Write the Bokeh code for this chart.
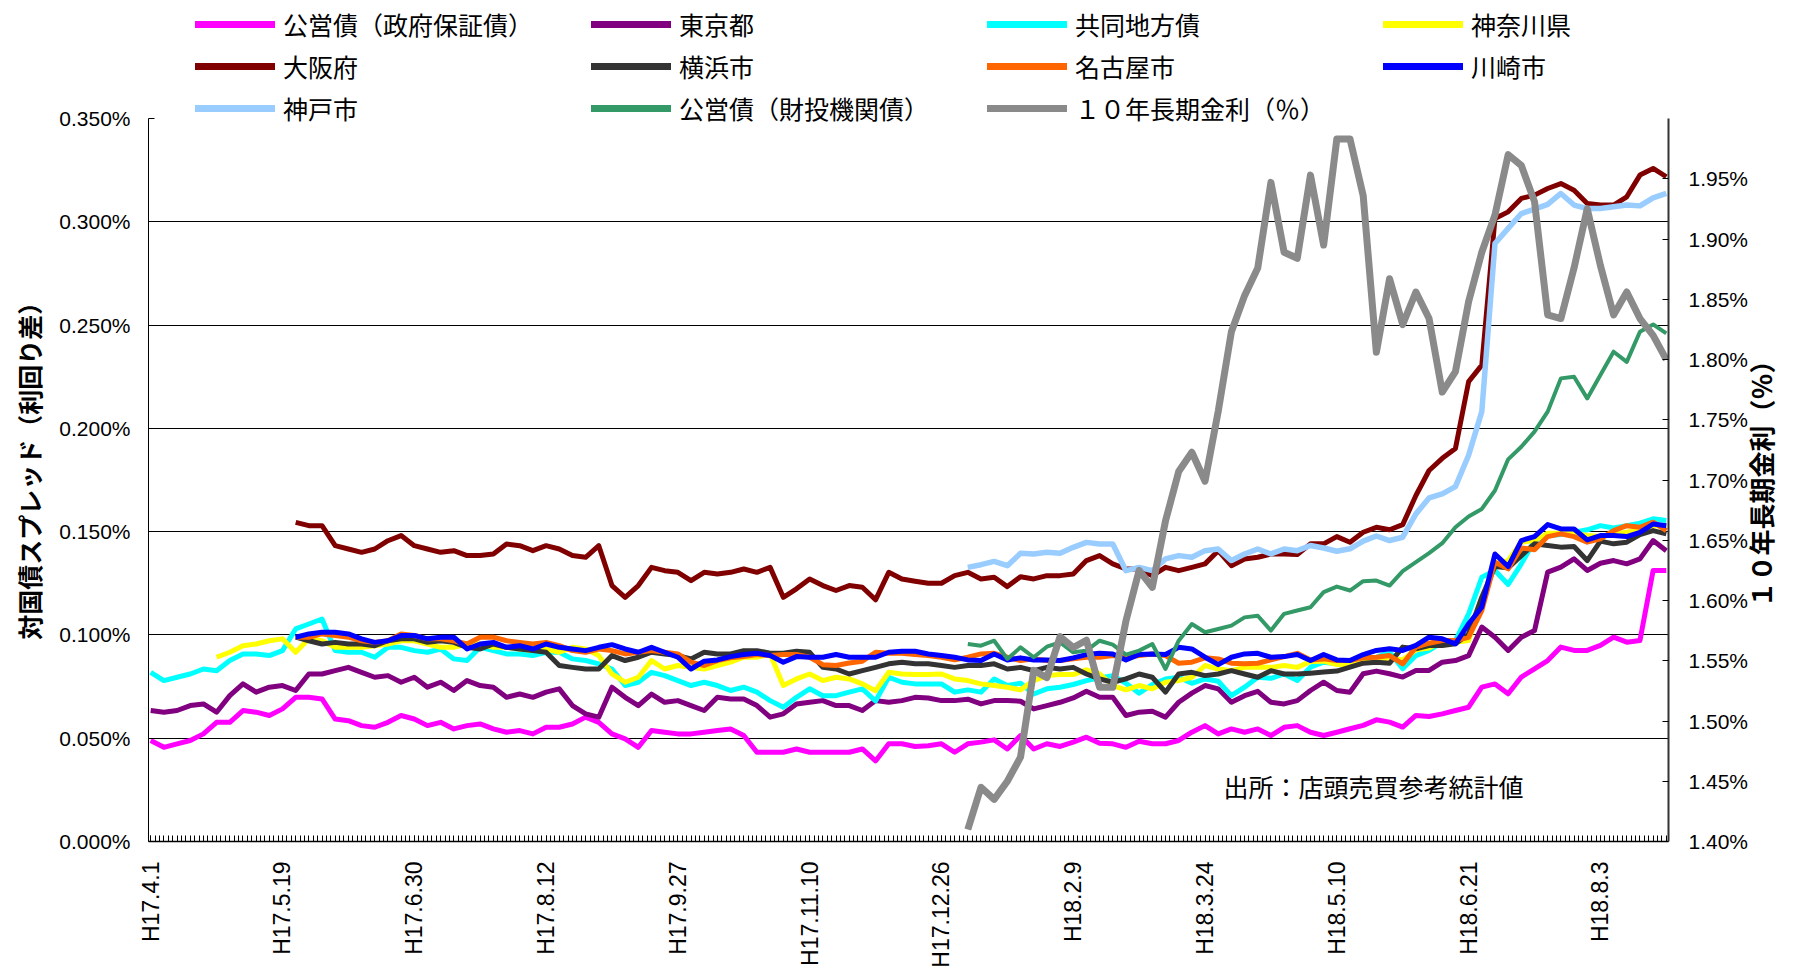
import math
import numpy as np
from bokeh.plotting import figure
from bokeh.models import (Range1d, LinearAxis, FixedTicker, PrintfTickFormatter,
                          Legend, LegendItem, Label)
from bokeh.embed import file_html
from bokeh.resources import INLINE

# ---------------- data ----------------
N_DAYS = 346          # business days on the category axis
STEP = 3              # values read every 3rd business day
date_labels = ["H17.4.1", "H17.5.19", "H17.6.30", "H17.8.12", "H17.9.27", "H17.11.10",
               "H17.12.26", "H18.2.9", "H18.3.24", "H18.5.10", "H18.6.21", "H18.8.3"]
label_days = [0, 30, 60, 90, 120, 150, 180, 210, 240, 270, 300, 330]

series_names = ["公営債（政府保証債）", "東京都", "共同地方債", "神奈川県",
                "大阪府", "横浜市", "名古屋市", "川崎市",
                "神戸市", "公営債（財投機関債）", "１０年長期金利（％）"]
series_start = [0, 0, 0, 15, 33, 33, 33, 33, 186, 186, 186]

gov_guaranteed = [
    0.0489, 0.0456, 0.0473, 0.0489, 0.0521, 0.0577, 0.0577, 0.0634, 0.0626, 0.0610,
    0.0642, 0.0698, 0.0698, 0.0690, 0.0593, 0.0585, 0.0561, 0.0553, 0.0577, 0.0610,
    0.0593, 0.0561, 0.0577, 0.0545, 0.0561, 0.0569, 0.0545, 0.0529, 0.0537, 0.0521,
    0.0553, 0.0553, 0.0569, 0.0602, 0.0577, 0.0521, 0.0497, 0.0456, 0.0537, 0.0529,
    0.0521, 0.0521, 0.0529, 0.0537, 0.0545, 0.0513, 0.0432, 0.0432, 0.0432, 0.0448,
    0.0432, 0.0432, 0.0432, 0.0432, 0.0448, 0.0390, 0.0473, 0.0473,
    0.0460, 0.0464, 0.0473, 0.0432, 0.0473, 0.0481, 0.0492, 0.0448, 0.0513, 0.0448,
    0.0473, 0.0460, 0.0481, 0.0505, 0.0476, 0.0473, 0.0456, 0.0485, 0.0473, 0.0473,
    0.0489, 0.0529, 0.0561, 0.0521, 0.0545, 0.0529, 0.0545, 0.0513, 0.0553, 0.0561,
    0.0529, 0.0513, 0.0529, 0.0546, 0.0562, 0.0589, 0.0578, 0.0554, 0.0610, 0.0605,
    0.0618, 0.0634, 0.0650, 0.0747, 0.0763, 0.0715, 0.0796, 0.0836, 0.0876, 0.0941,
    0.0925, 0.0925, 0.0949, 0.0989, 0.0965, 0.0973, 0.1312, 0.1312]

tokyo = [
    0.0634, 0.0626, 0.0634, 0.0658, 0.0666, 0.0626, 0.0706, 0.0763, 0.0723, 0.0747,
    0.0755, 0.0731, 0.0811, 0.0811, 0.0827, 0.0843, 0.0819, 0.0795, 0.0803, 0.0771,
    0.0795, 0.0747, 0.0771, 0.0731, 0.0779, 0.0755, 0.0747, 0.0698, 0.0714, 0.0698,
    0.0723, 0.0739, 0.0658, 0.0618, 0.0602, 0.0747, 0.0698, 0.0658, 0.0714, 0.0674,
    0.0682, 0.0658, 0.0634, 0.0698, 0.0690, 0.0690, 0.0658, 0.0602, 0.0618, 0.0666,
    0.0674, 0.0682, 0.0658, 0.0658, 0.0634, 0.0682, 0.0674, 0.0682,
    0.0698, 0.0695, 0.0682, 0.0682, 0.0689, 0.0666, 0.0682, 0.0682, 0.0679, 0.0642,
    0.0658, 0.0674, 0.0695, 0.0727, 0.0698, 0.0698, 0.0610, 0.0626, 0.0631, 0.0602,
    0.0674, 0.0718, 0.0755, 0.0739, 0.0674, 0.0706, 0.0727, 0.0674, 0.0666, 0.0682,
    0.0731, 0.0771, 0.0731, 0.0723, 0.0812, 0.0825, 0.0812, 0.0796, 0.0828, 0.0828,
    0.0868, 0.0876, 0.0900, 0.1038, 0.0989, 0.0925, 0.0989, 0.1021, 0.1304, 0.1328,
    0.1368, 0.1312, 0.1347, 0.1360, 0.1344, 0.1368, 0.1457, 0.1408]

kyodo = [
    0.0819, 0.0779, 0.0795, 0.0811, 0.0835, 0.0827, 0.0876, 0.0908, 0.0908, 0.0900,
    0.0924, 0.1029, 0.1053, 0.1077, 0.0924, 0.0916, 0.0916, 0.0892, 0.0940, 0.0940,
    0.0924, 0.0916, 0.0932, 0.0884, 0.0876, 0.0940, 0.0924, 0.0908, 0.0908, 0.0900,
    0.0916, 0.0916, 0.0884, 0.0876, 0.0860, 0.0835, 0.0755, 0.0771, 0.0819, 0.0803,
    0.0779, 0.0755, 0.0771, 0.0755, 0.0731, 0.0747, 0.0723, 0.0682, 0.0650, 0.0698,
    0.0739, 0.0706, 0.0706, 0.0723, 0.0739, 0.0680, 0.0795, 0.0771,
    0.0763, 0.0763, 0.0763, 0.0723, 0.0734, 0.0723, 0.0787, 0.0755, 0.0766, 0.0714,
    0.0739, 0.0747, 0.0760, 0.0779, 0.0792, 0.0803, 0.0766, 0.0718, 0.0760, 0.0787,
    0.0795, 0.0766, 0.0787, 0.0776, 0.0706, 0.0747, 0.0795, 0.0790, 0.0811, 0.0779,
    0.0844, 0.0868, 0.0860, 0.0847, 0.0868, 0.0892, 0.0917, 0.0836, 0.0900, 0.0925,
    0.0965, 0.0973, 0.1102, 0.1279, 0.1312, 0.1244, 0.1344, 0.1457, 0.1481, 0.1486,
    0.1497, 0.1509, 0.1529, 0.1518, 0.1529, 0.1541, 0.1562, 0.1554]

kanagawa = [
    0.0892, 0.0916, 0.0948, 0.0956, 0.0972, 0.0981, 0.0916, 0.0981, 0.0972, 0.0940,
    0.0940, 0.0940, 0.0948, 0.0956, 0.0972, 0.0972, 0.0956, 0.0940, 0.0940, 0.0956,
    0.0956, 0.0940, 0.0940, 0.0932, 0.0924,
    0.0932, 0.0916, 0.0940, 0.0932, 0.0900, 0.0811, 0.0771, 0.0795, 0.0876, 0.0835,
    0.0852, 0.0843, 0.0835, 0.0852, 0.0868, 0.0892, 0.0892, 0.0908, 0.0755, 0.0787,
    0.0811, 0.0779, 0.0795, 0.0787, 0.0763, 0.0730, 0.0819, 0.0811,
    0.0808, 0.0808, 0.0811, 0.0787, 0.0779, 0.0763, 0.0755, 0.0747, 0.0734, 0.0779,
    0.0803, 0.0808, 0.0808, 0.0831, 0.0811, 0.0755, 0.0734, 0.0755, 0.0739, 0.0771,
    0.0779, 0.0795, 0.0852, 0.0835, 0.0827, 0.0843, 0.0843, 0.0843, 0.0852, 0.0843,
    0.0871, 0.0873, 0.0857, 0.0857, 0.0876, 0.0879, 0.0889, 0.0879, 0.0928, 0.0937,
    0.0970, 0.0965, 0.0973, 0.1167, 0.1344, 0.1360, 0.1449, 0.1457, 0.1492, 0.1492,
    0.1492, 0.1481, 0.1476, 0.1489, 0.1497, 0.1509, 0.1529, 0.1529]

osaka = [
    0.1545, 0.1529, 0.1529, 0.1432, 0.1416, 0.1400, 0.1416, 0.1456, 0.1481, 0.1432,
    0.1416, 0.1400, 0.1408, 0.1384, 0.1384, 0.1392, 0.1440, 0.1432, 0.1408,
    0.1432, 0.1416, 0.1384, 0.1376, 0.1432, 0.1239, 0.1182, 0.1239, 0.1327, 0.1311,
    0.1303, 0.1263, 0.1303, 0.1295, 0.1303, 0.1319, 0.1303, 0.1327, 0.1182, 0.1223,
    0.1271, 0.1239, 0.1215, 0.1239, 0.1231, 0.1170, 0.1303, 0.1271,
    0.1260, 0.1250, 0.1250, 0.1287, 0.1303, 0.1271, 0.1279, 0.1234, 0.1282, 0.1271,
    0.1287, 0.1287, 0.1295, 0.1360, 0.1384, 0.1344, 0.1319, 0.1319, 0.1287, 0.1327,
    0.1311, 0.1327, 0.1344, 0.1408, 0.1335, 0.1368, 0.1376, 0.1392, 0.1392, 0.1389,
    0.1441, 0.1441, 0.1476, 0.1449, 0.1497, 0.1521, 0.1509, 0.1534, 0.1675, 0.1796,
    0.1855, 0.1903, 0.2226, 0.2306, 0.3016, 0.3048, 0.3113, 0.3129, 0.3161, 0.3185,
    0.3153, 0.3089, 0.3081, 0.3081, 0.3121, 0.3226, 0.3258, 0.3218]

yokohama = [
    0.0989, 0.0972, 0.0956, 0.0964, 0.0956, 0.0956, 0.0948, 0.0972, 0.0981, 0.0981,
    0.0964, 0.0972, 0.0964, 0.0940, 0.0932, 0.0956, 0.0940, 0.0932, 0.0924,
    0.0916, 0.0852, 0.0843, 0.0835, 0.0835, 0.0900, 0.0876, 0.0892, 0.0916, 0.0908,
    0.0900, 0.0884, 0.0916, 0.0908, 0.0908, 0.0924, 0.0924, 0.0911, 0.0911, 0.0921,
    0.0916, 0.0843, 0.0835, 0.0811, 0.0827, 0.0843, 0.0860, 0.0868,
    0.0860, 0.0860, 0.0852, 0.0843, 0.0852, 0.0852, 0.0860, 0.0835, 0.0843, 0.0827,
    0.0843, 0.0835, 0.0843, 0.0811, 0.0787, 0.0771, 0.0787, 0.0811, 0.0795, 0.0723,
    0.0811, 0.0819, 0.0803, 0.0811, 0.0827, 0.0811, 0.0795, 0.0827, 0.0811, 0.0811,
    0.0815, 0.0820, 0.0825, 0.0844, 0.0863, 0.0868, 0.0863, 0.0941, 0.0933, 0.0949,
    0.0949, 0.0957, 0.1005, 0.1183, 0.1331, 0.1325, 0.1384, 0.1441, 0.1433, 0.1425,
    0.1428, 0.1360, 0.1454, 0.1441, 0.1449, 0.1486, 0.1505, 0.1489]

nagoya = [
    0.0989, 0.0989, 0.1005, 0.0997, 0.0989, 0.0972, 0.0964, 0.0972, 0.1005, 0.0997,
    0.0981, 0.0981, 0.0972, 0.0956, 0.0989, 0.0989, 0.0972, 0.0964, 0.0956,
    0.0964, 0.0948, 0.0924, 0.0916, 0.0932, 0.0924, 0.0908, 0.0916, 0.0924, 0.0916,
    0.0908, 0.0868, 0.0852, 0.0876, 0.0889, 0.0895, 0.0905, 0.0900, 0.0905, 0.0905,
    0.0892, 0.0856, 0.0852, 0.0864, 0.0873, 0.0916, 0.0911, 0.0911,
    0.0905, 0.0900, 0.0892, 0.0879, 0.0892, 0.0908, 0.0911, 0.0892, 0.0876, 0.0884,
    0.0876, 0.0876, 0.0884, 0.0892, 0.0892, 0.0900, 0.0892, 0.0900, 0.0908, 0.0900,
    0.0863, 0.0868, 0.0889, 0.0884, 0.0863, 0.0860, 0.0863, 0.0879, 0.0895, 0.0911,
    0.0879, 0.0884, 0.0876, 0.0876, 0.0889, 0.0892, 0.0900, 0.0860, 0.0941, 0.0960,
    0.0973, 0.0973, 0.0989, 0.1118, 0.1352, 0.1320, 0.1421, 0.1412, 0.1476, 0.1489,
    0.1476, 0.1449, 0.1465, 0.1505, 0.1529, 0.1521, 0.1546, 0.1505]

kawasaki = [
    0.0989, 0.1005, 0.1013, 0.1013, 0.1005, 0.0981, 0.0964, 0.0972, 0.0997, 0.0997,
    0.0981, 0.0989, 0.0989, 0.0932, 0.0956, 0.0964, 0.0940, 0.0948, 0.0932,
    0.0956, 0.0940, 0.0932, 0.0924, 0.0940, 0.0953, 0.0932, 0.0916, 0.0940, 0.0916,
    0.0892, 0.0835, 0.0873, 0.0879, 0.0895, 0.0905, 0.0911, 0.0900, 0.0868, 0.0895,
    0.0892, 0.0892, 0.0905, 0.0892, 0.0892, 0.0892, 0.0916, 0.0921,
    0.0921, 0.0908, 0.0900, 0.0892, 0.0879, 0.0876, 0.0908, 0.0879, 0.0889, 0.0879,
    0.0879, 0.0876, 0.0889, 0.0905, 0.0911, 0.0908, 0.0879, 0.0905, 0.0908, 0.0905,
    0.0940, 0.0932, 0.0892, 0.0856, 0.0892, 0.0908, 0.0911, 0.0892, 0.0895, 0.0905,
    0.0876, 0.0905, 0.0879, 0.0876, 0.0905, 0.0925, 0.0933, 0.0925, 0.0949, 0.0989,
    0.0981, 0.0957, 0.1054, 0.1134, 0.1392, 0.1331, 0.1457, 0.1476, 0.1534, 0.1513,
    0.1513, 0.1460, 0.1481, 0.1481, 0.1476, 0.1497, 0.1537, 0.1529]

kobe = [
    0.1327, 0.1340, 0.1356, 0.1335, 0.1395, 0.1392, 0.1400, 0.1395, 0.1424, 0.1448,
    0.1440, 0.1440, 0.1311, 0.1327, 0.1311, 0.1368, 0.1384, 0.1376, 0.1408, 0.1416,
    0.1360, 0.1392, 0.1416, 0.1392, 0.1416, 0.1408,
    0.1433, 0.1421, 0.1405, 0.1417, 0.1454, 0.1479, 0.1457, 0.1473, 0.1586, 0.1663,
    0.1683, 0.1718, 0.1870, 0.2081, 0.2895, 0.2968, 0.3040, 0.3061, 0.3084, 0.3137,
    0.3081, 0.3064, 0.3064, 0.3073, 0.3081, 0.3077, 0.3116, 0.3137]

filp_agency = [
    0.0956, 0.0948, 0.0972, 0.0884, 0.0940, 0.0892, 0.0943, 0.0964, 0.0916, 0.0924,
    0.0972, 0.0953, 0.0905, 0.0924, 0.0956, 0.0835, 0.0972, 0.1053, 0.1013, 0.1029,
    0.1045, 0.1085, 0.1093, 0.1021, 0.1102, 0.1118,
    0.1134, 0.1207, 0.1234, 0.1215, 0.1260, 0.1263, 0.1239, 0.1309, 0.1352, 0.1396,
    0.1444, 0.1521, 0.1573, 0.1610, 0.1699, 0.1850, 0.1911, 0.1984, 0.2081, 0.2242,
    0.2250, 0.2145, 0.2258, 0.2371, 0.2322, 0.2468, 0.2503, 0.2460]

jgb10 = [
    1.410, 1.445, 1.435, 1.450, 1.470, 1.542, 1.536, 1.570, 1.561, 1.567,
    1.528, 1.528, 1.583, 1.625, 1.611, 1.666, 1.707, 1.723, 1.699, 1.757,
    1.823, 1.853, 1.876, 1.947, 1.889, 1.884, 1.953, 1.895, 1.983, 1.983,
    1.936, 1.806, 1.867, 1.829, 1.856, 1.834, 1.773, 1.790, 1.848, 1.889,
    1.920, 1.970, 1.961, 1.931, 1.837, 1.834, 1.876, 1.925, 1.878, 1.837,
    1.856, 1.834, 1.820, 1.800]

left_ticks = [0.0, 0.05, 0.10, 0.15, 0.20, 0.25, 0.30, 0.35]
grid_ticks = [0.05, 0.10, 0.15, 0.20, 0.25, 0.30]
right_ticks = [1.40, 1.45, 1.50, 1.55, 1.60, 1.65, 1.70, 1.75, 1.80, 1.85, 1.90, 1.95]
left_bounds = (0.0, 0.35)
right_bounds = (1.40, 2.00)
left_title = "対国債スプレッド（利回り差）"
right_title = "１０年長期金利（％）"
source_note = "出所：店頭売買参考統計値"

all_values = [gov_guaranteed, tokyo, kyodo, kanagawa, osaka, yokohama, nagoya,
              kawasaki, kobe, filp_agency, jgb10]

# ---------------- layout ----------------
W, H = 1801, 971
FRAME_LEFT, FRAME_RIGHT_GAP, FRAME_BOTTOM_GAP = 148, 133, 130
PLOT_TOP = 118                      # pixel row where the 0.350% / 2.00% level sits
frame_h = H - FRAME_BOTTOM_GAP      # frame spans the whole height above the x axis
plot_h = frame_h - PLOT_TOP
left_top = left_bounds[1] * frame_h / plot_h
right_top = right_bounds[0] + (right_bounds[1] - right_bounds[0]) * frame_h / plot_h
IDEO_SPACE = "\u3000"

colors = ["#FF00FF", "#800080", "#00FFFF", "#FFFF00", "#800000", "#333333",
          "#FF6600", "#0000FF", "#99CCFF", "#339966", "#8A8A8A"]
widths = [5, 5, 5, 5, 5, 5, 5, 5, 5.5, 4, 7]
CJK = "Noto Sans CJK JP"
LATIN = "Liberation Sans"

p = figure(width=W, height=H, output_backend="svg", toolbar_location=None,
           x_range=Range1d(-0.5, N_DAYS - 0.5), y_range=Range1d(0, left_top),
           min_border_left=FRAME_LEFT, min_border_right=FRAME_RIGHT_GAP, min_border_top=0,
           min_border_bottom=FRAME_BOTTOM_GAP, outline_line_color=None,
           background_fill_color="white", border_fill_color="white")
p.extra_y_ranges = {"jgb": Range1d(right_bounds[0], right_top)}

# x axis
xa = p.xaxis[0]
xa.ticker = FixedTicker(ticks=label_days, minor_ticks=list(range(N_DAYS)))
xa.major_label_overrides = {d: s for d, s in zip(label_days, date_labels)}
xa.major_label_orientation = math.pi / 2
xa.major_tick_in = 6
xa.major_tick_out = 0
xa.minor_tick_in = 6
xa.minor_tick_out = 0
xa.major_tick_line_color = "black"
xa.minor_tick_line_color = "black"
xa.axis_line_color = "black"
xa.axis_line_width = 1.5
xa.major_label_text_font = LATIN
xa.major_label_text_font_size = "23px"
xa.major_label_text_color = "black"
xa.major_label_standoff = 20

# left axis (title centred on the 0-0.35 part by padding its top end)
ya = p.yaxis[0]
ya.bounds = left_bounds
ya.ticker = FixedTicker(ticks=left_ticks)
ya.formatter = PrintfTickFormatter(format="%.3f%%")
ya.major_tick_in = 6
ya.major_tick_out = 0
ya.minor_tick_line_color = None
ya.axis_line_color = "black"
ya.major_tick_line_color = "black"
ya.major_label_text_font = LATIN
ya.major_label_text_font_size = "21px"
ya.major_label_text_color = "black"
ya.major_label_standoff = 18
ya.axis_label = left_title + IDEO_SPACE * 4
ya.axis_label_text_font = CJK
ya.axis_label_text_font_style = "bold"
ya.axis_label_text_font_size = "25px"
ya.axis_label_text_color = "black"
ya.axis_label_standoff = 9

# right axis
ra = LinearAxis(y_range_name="jgb", ticker=FixedTicker(ticks=right_ticks),
                formatter=PrintfTickFormatter(format="%.2f%%"))
ra.bounds = right_bounds
ra.major_tick_in = 6
ra.major_tick_out = 0
ra.minor_tick_line_color = None
ra.axis_line_color = "#333333"
ra.axis_line_width = 2
ra.major_tick_line_color = "black"
ra.major_label_text_font = LATIN
ra.major_label_text_font_size = "21px"
ra.major_label_text_color = "black"
ra.major_label_standoff = 20
ra.axis_label_text_font = CJK
ra.axis_label_text_font_style = "bold"
ra.axis_label_text_font_size = "26px"
ra.axis_label_text_color = "black"
ra.axis_label_standoff = 9
try:
    ra.axis_label_orientation = math.pi / 2
    ra.axis_label_align = "start"
    ra.axis_label = IDEO_SPACE * 9 + right_title
except Exception:
    ra.axis_label = right_title
p.add_layout(ra, "right")

# grid
p.xgrid.visible = False
p.ygrid.ticker = FixedTicker(ticks=grid_ticks)
p.ygrid.grid_line_color = "black"
p.ygrid.grid_line_width = 1

# data lines
last = len(all_values) - 1
for i, vals in enumerate(all_values):
    xs = series_start[i] + STEP * np.arange(len(vals))
    kw = dict(line_color=colors[i], line_width=widths[i], line_join="round")
    if i == last:
        kw["y_range_name"] = "jgb"
    p.line(xs, vals, **kw)

# legend swatches: one-point copies of each series (draw nothing on the plot)
items = []
for i, name in enumerate(series_names):
    kw = dict(line_color=colors[i], line_width=7, line_cap="round")
    if i == last:
        kw["y_range_name"] = "jgb"
    r = p.line(x=[series_start[i]], y=[all_values[i][0]], **kw)
    items.append(LegendItem(label=name, renderers=[r]))

legend = Legend(items=items, orientation="horizontal", ncols=4,
                location=(47, 715), padding=0, spacing=6, margin=0,
                glyph_width=80, glyph_height=36, label_height=36,
                label_width=302, label_standoff=8,
                label_text_font=CJK, label_text_font_size="25px",
                label_text_color="black",
                border_line_color=None, background_fill_alpha=0)
p.add_layout(legend)

src = Label(x=1075, y=56, x_units="screen", y_units="screen",
            text=source_note, text_font=CJK,
            text_font_size="25px", text_color="black", text_baseline="middle")
p.add_layout(src)

open("out.html", "w").write(file_html(p, INLINE))
